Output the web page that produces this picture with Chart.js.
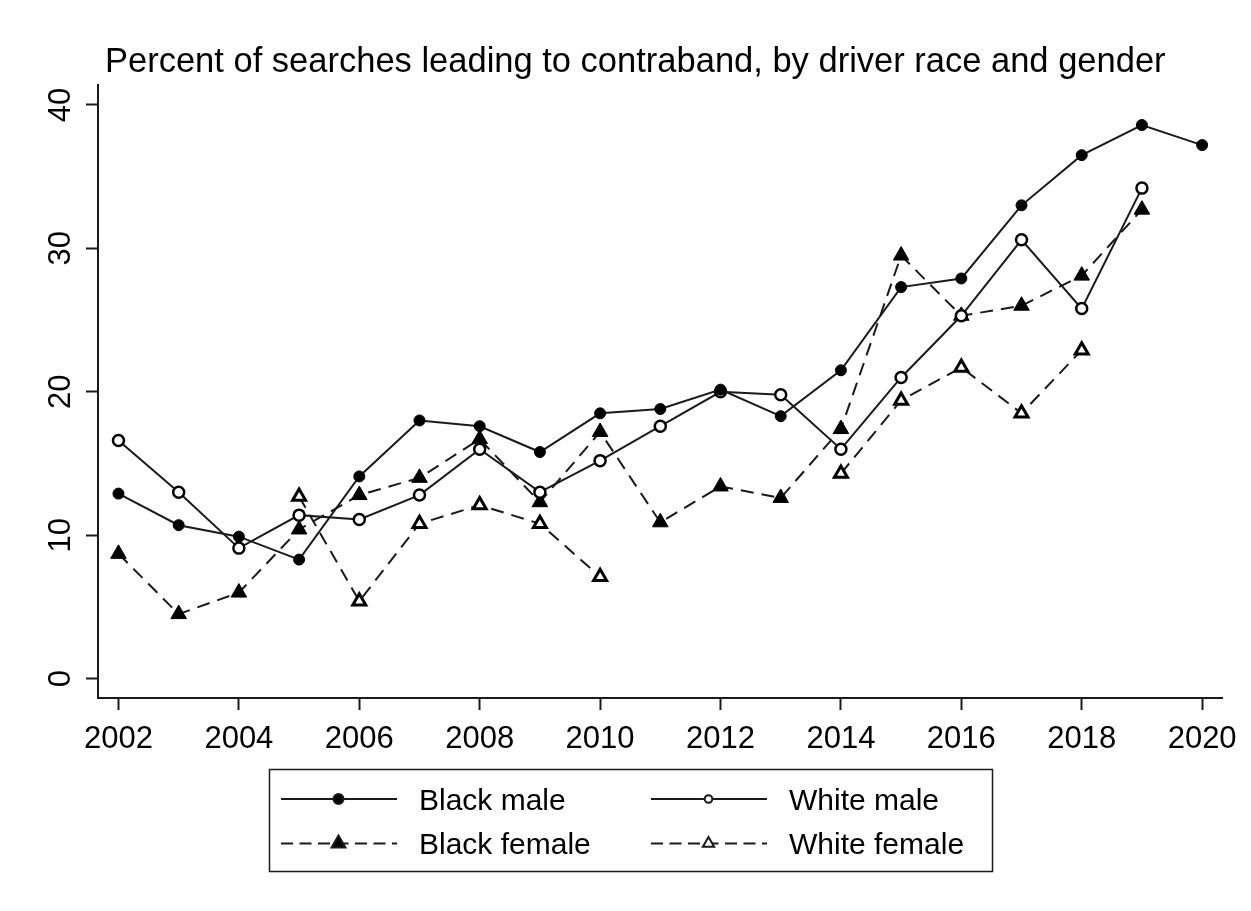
<!DOCTYPE html>
<html>
<head>
<meta charset="utf-8">
<script src="https://cdn.jsdelivr.net/npm/chart.js@4.4.1/dist/chart.umd.min.js"></script>
<style>
  html, body { margin: 0; padding: 0; background: #fff; }
  canvas { display: block; }
</style>
</head>
<body>
<canvas id="mycanvas" width="1251" height="911"></canvas>
<script>
// data
var years = [2002, 2003, 2004, 2005, 2006, 2007, 2008, 2009, 2010, 2011,
             2012, 2013, 2014, 2015, 2016, 2017, 2018, 2019, 2020];
var blackMale   = [12.9, 10.7, 9.9, 8.3, 14.1, 18.0, 17.6, 15.8, 18.5, 18.8,
                   20.15, 18.3, 21.5, 27.3, 27.9, 33.0, 36.5, 38.6, 37.2];
var whiteMale   = [16.6, 13.0, 9.1, 11.4, 11.1, 12.8, 16.0, 13.0, 15.2, 17.6,
                   20.0, 19.8, 16.0, 21.0, 25.3, 30.6, 25.8, 34.2, null];
var blackFemale = [8.7, 4.5, 6.0, 10.4, 12.8, 14.0, 16.7, 12.3, 17.2, 10.9,
                   13.4, 12.6, 17.4, 29.5, 25.3, 26.0, 28.1, 32.7, null];
var whiteFemale = [null, null, null, 12.7, 5.4, 10.8, 12.1, 10.8, 7.1, null,
                   null, null, 14.3, 19.4, 21.7, 18.5, 22.9, null, null];
var xTicks = [2002, 2004, 2006, 2008, 2010, 2012, 2014, 2016, 2018, 2020];
var yTicks = [0, 10, 20, 30, 40];
var titleText = 'Percent of searches leading to contraband, by driver race and gender';

var ink = '#1a1a1a';
var fontFam = "'Liberation Sans', Arial, sans-serif";

function pts(vals) {
  return years.map(function(y, i) { return { x: y, y: vals[i] }; });
}

// title + boxed legend drawn on the canvas
var extras = {
  id: 'extras',
  afterDraw: function(chart) {
    var ctx = chart.ctx;
    ctx.save();
    ctx.fillStyle = '#000';
    ctx.font = '34.5px ' + fontFam;
    ctx.textAlign = 'left';
    ctx.textBaseline = 'alphabetic';
    ctx.fillText(titleText, 105, 72);

    // legend box
    ctx.strokeStyle = ink;
    ctx.lineWidth = 1.5;
    ctx.strokeRect(269.5, 769.5, 723, 102);

    var cols = [{ x0: 281, x1: 397, mx: 338.5, tx: 419 }, { x0: 651, x1: 767, mx: 708.5, tx: 789 }];
    var rows = [799, 843.5];
    chart.data.datasets.forEach(function(ds, i) {
      var c = cols[i % 2], ly = rows[Math.floor(i / 2)];
      ctx.save();
      ctx.strokeStyle = ink;
      ctx.lineWidth = 2;
      ctx.setLineDash(ds.borderDash ? [12, 6.5] : []);
      ctx.beginPath();
      ctx.moveTo(c.x0, ly);
      ctx.lineTo(c.x1, ly);
      ctx.stroke();
      ctx.setLineDash([]);
      // marker
      ctx.fillStyle = ds.pointBackgroundColor;
      ctx.lineWidth = 2;
      ctx.beginPath();
      if (ds.pointStyle === 'circle') {
        ctx.arc(c.mx, ly, ds.pointBackgroundColor === '#000' ? 5 : 3.8, 0, Math.PI * 2);
      } else {
        var rr = ds.pointBackgroundColor === '#000' ? 8 : 6.5;
        ctx.moveTo(c.mx, ly - rr);
        ctx.lineTo(c.mx + rr * 0.866, ly + rr / 2);
        ctx.lineTo(c.mx - rr * 0.866, ly + rr / 2);
        ctx.closePath();
      }
      ctx.fill();
      ctx.stroke();
      ctx.fillStyle = '#000';
      ctx.font = '30px ' + fontFam;
      ctx.fillText(ds.label, c.tx, ly + 10.7);
      ctx.restore();
    });
    ctx.restore();
  }
};

var chartdata = {
  datasets: [
    {
      label: 'Black male',
      data: pts(blackMale),
      borderColor: ink,
      borderWidth: 2,
      pointStyle: 'circle',
      pointRadius: 5.5,
      pointBackgroundColor: '#000',
      pointBorderColor: '#000',
      pointBorderWidth: 1
    },
    {
      label: 'White male',
      data: pts(whiteMale),
      borderColor: ink,
      borderWidth: 2,
      pointStyle: 'circle',
      pointRadius: 5.5,
      pointBackgroundColor: '#fff',
      pointBorderColor: '#000',
      pointBorderWidth: 2.5
    },
    {
      label: 'Black female',
      data: pts(blackFemale),
      borderColor: ink,
      borderWidth: 2,
      borderDash: [13, 8],
      pointStyle: 'triangle',
      pointRadius: 9,
      pointBackgroundColor: '#000',
      pointBorderColor: '#000',
      pointBorderWidth: 1
    },
    {
      label: 'White female',
      data: pts(whiteFemale),
      borderColor: ink,
      borderWidth: 2,
      borderDash: [13, 8],
      pointStyle: 'triangle',
      pointRadius: 7.5,
      pointBackgroundColor: '#fff',
      pointBorderColor: '#000',
      pointBorderWidth: 3
    }
  ]
};

var ctx = document.getElementById('mycanvas');
var lineGraph = new Chart(ctx, {
  type: 'line',
  data: chartdata,
  plugins: [extras],
  options: {
    responsive: false,
    animation: false,
    devicePixelRatio: 1,
    spanGaps: false,
    layout: { padding: { left: 0, right: 29, top: 85, bottom: 153 } },
    plugins: {
      legend: { display: false },
      title: { display: false },
      tooltip: { enabled: false }
    },
    scales: {
      x: {
        type: 'linear',
        min: 2001.66,
        max: 2020.33,
        afterBuildTicks: function(s) { s.ticks = xTicks.map(function(v) { return { value: v }; }); },
        afterFit: function(s) { s.height = 60; },
        ticks: {
          color: '#000',
          font: { family: fontFam, size: 31 },
          padding: 11,
          maxRotation: 0,
          autoSkip: false,
          callback: function(v) { return String(v); }
        },
        grid: { display: true, drawOnChartArea: false, drawTicks: true, tickLength: 12, tickWidth: 2, tickColor: ink },
        border: { display: true, color: ink, width: 2 }
      },
      y: {
        type: 'linear',
        min: -1.35,
        max: 41.39,
        afterBuildTicks: function(s) { s.ticks = yTicks.map(function(v) { return { value: v }; }); },
        afterFit: function(s) { s.width = 98; },
        ticks: {
          color: '#000',
          font: { family: fontFam, size: 31 },
          padding: 7,
          minRotation: 90,
          maxRotation: 90,
          crossAlign: 'center',
          callback: function(v) { return String(v); }
        },
        grid: { display: true, drawOnChartArea: false, drawTicks: true, tickLength: 12, tickWidth: 2, tickColor: ink },
        border: { display: true, color: ink, width: 2 }
      }
    }
  }
});
</script>
</body>
</html>
